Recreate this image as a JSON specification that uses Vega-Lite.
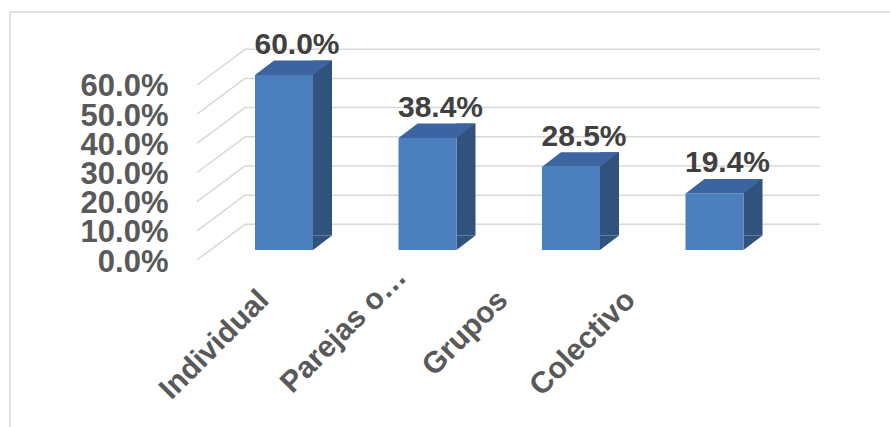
{
  "$schema": "https://vega.github.io/schema/vega-lite/v6.json",
  "width": 890,
  "height": 430,
  "autosize": {"type": "none"},
  "padding": {"left": 10, "top": 12, "right": 0, "bottom": 0},
  "background": "white",
  "config": {"view": {"stroke": "#d9d9d9", "strokeWidth": 1.5}, "font": "Liberation Sans"},
  "datasets": {
    "bars": [
      {"cat": "Individual", "value": 0.6},
      {"cat": "Parejas o…", "value": 0.384},
      {"cat": "Grupos", "value": 0.285},
      {"cat": "Colectivo", "value": 0.194}
    ],
    "grid": [{"v": 0}, {"v": 0.1}, {"v": 0.2}, {"v": 0.3}, {"v": 0.4}, {"v": 0.5}, {"v": 0.6}]
  },
  "layer": [
    {
      "data": {"name": "grid"},
      "mark": {"type": "rule", "color": "#d9d9d9", "strokeWidth": 1.5, "yOffset": -25.7, "y2Offset": -25.7},
      "encoding": {
        "x": {"datum": "Individual", "type": "nominal", "bandPosition": 0.2282, "scale": {"type": "band", "domain": [" ", "Individual", "Parejas o…", "Grupos", "Colectivo"], "paddingInner": 0, "paddingOuter": 0.601, "align": 0.3406}},
        "x2": {"datum": "Colectivo", "bandPosition": 1.2352},
        "y": {"field": "v", "type": "quantitative", "title": null, "scale": {"domain": [-0.6582, 0.8159], "nice": false, "zero": false}},
        "y2": {"field": "v"}
      }
    },
    {
      "data": {"name": "grid"},
      "mark": {"type": "rule", "color": "#d9d9d9", "strokeWidth": 1.5, "yOffset": 10, "y2Offset": -25.7},
      "encoding": {
        "x": {"datum": "Individual", "type": "nominal", "bandPosition": -0.1063},
        "x2": {"datum": "Individual", "bandPosition": 0.2282},
        "y": {"field": "v", "type": "quantitative", "title": null},
        "y2": {"field": "v"}
      }
    },
    {
      "data": {"name": "bars"},
      "mark": {"type": "bar", "width": 19, "xOffset": 38.5, "yOffset": -14.5, "y2Offset": -14.5, "color": "#30527d"},
      "encoding": {
        "x": {"field": "cat", "type": "nominal", "sort": null, "title": null},
        "y": {"field": "value", "type": "quantitative", "title": null},
        "y2": {"datum": 0}
      }
    },
    {
      "data": {"name": "bars"},
      "mark": {"type": "point", "shape": "M29,0L29,-14.5L48,-14.5Z", "size": 4, "filled": true, "opacity": 1, "color": "#30527d", "strokeWidth": 0},
      "encoding": {
        "x": {"field": "cat", "type": "nominal", "sort": null, "title": null},
        "y": {"datum": 0, "type": "quantitative"}
      }
    },
    {
      "data": {"name": "bars"},
      "mark": {"type": "bar", "width": 58, "color": "#4a7ebd"},
      "encoding": {
        "x": {
          "field": "cat", "type": "nominal", "sort": null, "title": null,
          "axis": {
            "title": null, "labelAngle": -45, "labelAlign": "right", "labelBaseline": "middle",
            "labelFontSize": 30, "labelFontWeight": "bold", "labelColor": "#595959", "labelFont": "Liberation Sans",
            "ticks": false, "domain": false, "grid": false, "offset": -149, "labelLimit": 0, "labelOverlap": false,
            "labelPadding": {"condition": {"test": "datum.value === 'Parejas o…'", "value": -21}, "value": 2},
            "labelOffset": {"condition": [
              {"test": "datum.value === 'Individual'", "value": -20},
              {"test": "datum.value === 'Parejas o…'", "value": -26},
              {"test": "datum.value === 'Grupos'", "value": -68}
            ], "value": -84}
          }
        },
        "y": {
          "field": "value", "type": "quantitative", "title": null,
          "axis": {"title": null, "values": [0, 0.1, 0.2, 0.3, 0.4, 0.5, 0.6], "format": ".1%", "labelFontSize": 31, "labelFontWeight": "bold", "labelColor": "#595959", "labelFont": "Liberation Sans", "ticks": false, "domain": false, "grid": false, "labelPadding": 0, "offset": -158, "labelOffset": 12, "labelOverlap": false, "labelFlush": false, "labelBound": false}
        },
        "y2": {"datum": 0}
      }
    },
    {
      "data": {"name": "bars"},
      "mark": {"type": "point", "shape": "M-29,0L29,0L48,-14.5L-10,-14.5Z", "size": 4, "filled": true, "opacity": 1, "color": "#3b64a0", "strokeWidth": 0},
      "encoding": {
        "x": {"field": "cat", "type": "nominal", "sort": null, "title": null},
        "y": {"field": "value", "type": "quantitative", "title": null}
      }
    },
    {
      "data": {"name": "bars"},
      "mark": {"type": "text", "dx": 13, "dy": -21, "baseline": "alphabetic", "align": "center", "fontSize": 30, "fontWeight": "bold", "color": "#404040", "font": "Liberation Sans"},
      "encoding": {
        "x": {"field": "cat", "type": "nominal", "sort": null, "title": null},
        "y": {"field": "value", "type": "quantitative", "title": null},
        "text": {"field": "value", "type": "quantitative", "format": ".1%"}
      }
    }
  ]
}
